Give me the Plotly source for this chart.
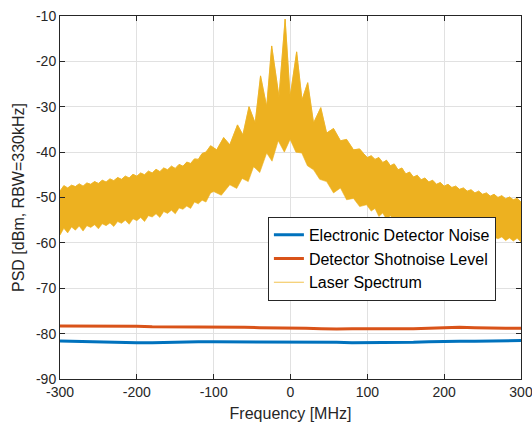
import plotly.graph_objects as go

# ---- data ----
noise_freq = list(range(-300, 301, 20))
electronic_noise = [-81.6, -81.7, -81.8, -81.9, -81.9, -82.0, -82.0, -81.9, -81.9, -81.8, -81.8,
                    -81.8, -81.8, -81.9, -81.9, -81.9, -81.8, -81.9, -81.9, -82.0, -82.0, -82.0,
                    -82.0, -81.9, -81.8, -81.7, -81.7, -81.7, -81.6, -81.6, -81.5]
shotnoise_level = [-78.3, -78.3, -78.4, -78.3, -78.4, -78.4, -78.5, -78.5, -78.6, -78.6, -78.6,
                   -78.6, -78.6, -78.7, -78.7, -78.8, -78.8, -78.9, -79.0, -78.9, -78.9, -79.0,
                   -79.0, -78.9, -78.8, -78.7, -78.6, -78.7, -78.8, -78.8, -78.8]

# upper edge of the laser spectrum band
laser_upper_freq = ([-300 + 5 * i for i in range(38)] +
                    [-110, -104, -96, -87, -79, -69, -62, -54, -46, -39, -31, -24.5, -15, -7,
                     -0.5, 8, 15, 22.4, 30, 39.4, 47, 56, 65, 73, 82, 90] +
                    [95 + 5 * i for i in range(42)])
laser_upper = [-48.6, -47.4, -47.9, -47.3, -47.6, -47.0, -47.5, -46.8, -47.1, -46.5, -46.9, -46.2,
               -46.6, -45.9, -46.3, -45.6, -46.0, -45.3, -45.7, -44.9, -45.3, -44.6, -45.0, -44.2,
               -44.6, -43.8, -44.3, -43.5, -43.9, -43.1, -43.6, -42.7, -43.1, -42.2, -42.5, -41.5,
               -41.6, -40.3,
               -40.0, -38.6, -39.5, -36.8, -38.4, -34.0, -36.2, -30.0, -33.6, -23.2, -30.0, -16.6,
               -27.8, -10.7, -27.8, -17.9, -28.5, -24.7, -33.6, -30.2, -35.8, -34.8, -37.5, -37.2,
               -39.5, -39.3,
               -40.3, -41.2, -40.8, -41.6, -41.2, -42.3, -41.8, -43.0, -42.6, -43.9, -43.5, -44.8,
               -44.4, -45.5, -45.1, -46.1, -45.7, -46.6, -46.2, -47.1, -46.7, -47.5, -47.1, -47.8,
               -47.5, -48.2, -47.9, -48.6, -48.3, -49.0, -48.6, -49.3, -49.0, -49.7, -49.3, -50.0,
               -49.6, -50.3, -49.9, -50.5, -50.2, -51.0]

# lower edge of the laser spectrum band
laser_lower_freq = ([-300 + 5 * i for i in range(38)] +
                    [-110, -104, -100, -90, -79, -70, -63, -55, -48, -40, -31, -24, -16, -8,
                     -0.5, 7, 14.7, 22, 30, 38, 47, 56, 65, 73, 82, 90, 99] +
                    [105, 110, 115, 120, 125, 130, 135, 140, 145, 150, 160, 170, 180, 190, 200,
                     210, 220, 230, 240, 250, 260, 270, 275, 280, 285, 290, 295, 300])
laser_lower = [-58.3, -56.8, -57.8, -56.5, -57.2, -56.3, -57.4, -56.2, -56.6, -56.0, -56.9, -55.8,
               -56.2, -55.6, -56.4, -55.3, -55.7, -55.0, -55.9, -54.7, -55.1, -54.4, -55.3, -54.0,
               -54.3, -53.6, -54.4, -53.1, -53.5, -52.8, -53.6, -52.3, -52.6, -51.9, -52.4, -51.0,
               -51.4, -50.6,
               -51.0, -49.0, -48.7, -49.5, -47.2, -48.0, -45.8, -46.5, -43.2, -44.5, -40.2, -42.0,
               -37.5, -40.0, -37.2, -40.0, -40.2, -43.0, -43.9, -46.0, -46.5, -49.0, -47.9, -50.5,
               -50.2, -52.0, -51.6,
               -53.0, -52.4, -54.2, -53.4, -54.8, -54.0, -55.2, -54.6, -55.8, -55.2, -56.0, -56.6,
               -56.5, -57.2, -57.0, -57.7, -57.5, -58.2, -58.0, -58.6, -58.4, -59.1, -58.7, -59.5,
               -58.9, -59.6, -59.0, -59.8]

x_ticks = [-300, -200, -100, 0, 100, 200, 300]
y_ticks = [-90, -80, -70, -60, -50, -40, -30, -20, -10]

BLUE = "#0072BD"
ORANGE = "#D95319"
YELLOW = "#EDB120"
AX = "#262626"
FONT = "Liberation Sans, Arial, sans-serif"

fig = go.Figure()
fig.add_trace(go.Scatter(x=noise_freq, y=electronic_noise, mode="lines",
                         line=dict(color=BLUE, width=3), name="Electronic Detector Noise"))
fig.add_trace(go.Scatter(x=noise_freq, y=shotnoise_level, mode="lines",
                         line=dict(color=ORANGE, width=3), name="Detector Shotnoise Level"))
fig.add_trace(go.Scatter(x=laser_upper_freq, y=laser_upper, mode="lines",
                         line=dict(color=YELLOW, width=0.8), name="Laser Spectrum"))
fig.add_trace(go.Scatter(x=laser_upper_freq + laser_lower_freq[::-1],
                         y=laser_upper + laser_lower[::-1],
                         mode="lines", fill="toself", fillcolor=YELLOW,
                         line=dict(color=YELLOW, width=0.6), showlegend=False,
                         name="Laser Spectrum"))

axis_common = dict(showline=True, linecolor=AX, linewidth=1, mirror="ticks",
                   ticks="inside", ticklen=5, tickcolor=AX, showgrid=True,
                   gridcolor="#e1e1e1", gridwidth=1, zeroline=False, automargin=False,
                   ticklabeloverflow="allow",
                   tickfont=dict(family=FONT, size=14, color=AX))

fig.update_xaxes(range=[-300, 300], tickvals=x_ticks, ticktext=[str(v) for v in x_ticks],
                 title=dict(text="Frequency [MHz]", font=dict(family=FONT, size=16, color=AX),
                            standoff=9), **axis_common)
fig.update_yaxes(range=[-90, -10], tickvals=y_ticks, ticktext=[str(v) for v in y_ticks],
                 title=dict(text="PSD [dBm, RBW=330kHz]", font=dict(family=FONT, size=16, color=AX),
                            standoff=7), **axis_common)

fig.update_layout(
    width=532, height=423,
    margin=dict(l=60, r=11, t=16, b=44),
    paper_bgcolor="white", plot_bgcolor="white",
    font=dict(family=FONT, color=AX),
    showlegend=True,
    legend=dict(x=0.451, y=0.447, xanchor="left", yanchor="top",
                bgcolor="white", bordercolor=AX, borderwidth=1,
                font=dict(family=FONT, size=16, color="#000000"),
                tracegroupgap=0, itemwidth=30),
)

fig.write_html("out.html")
